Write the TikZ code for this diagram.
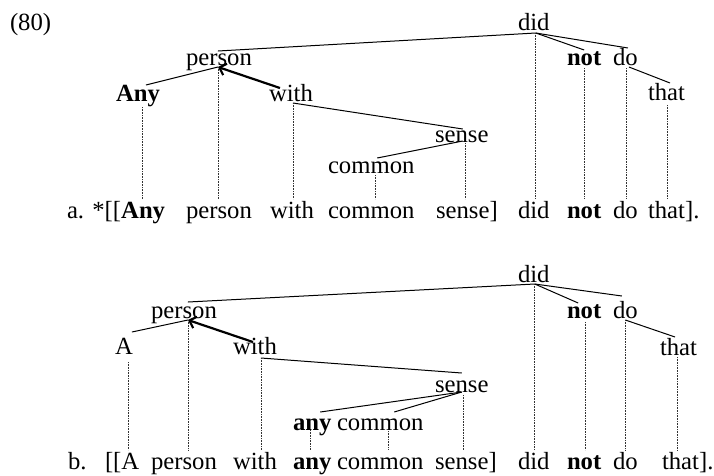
\documentclass[tikz,border=0pt]{standalone}
\usepackage{fontspec}
\setmainfont{Liberation Serif}
\usetikzlibrary{calc,arrows.meta}
\begin{document}
\begin{tikzpicture}[x=1pt,y=-1pt,
  wd/.style={inner sep=0pt, outer sep=0pt, anchor=base west, font=\fontsize{24.7}{29}\selectfont},
  sw/.style={wd, text height=19pt, text depth=5pt},
  edge/.style={line width=1pt, black},
  dotl/.style={line width=0.7pt, dash pattern=on 0.7pt off 0.9pt, black!80},
  mov/.style={line width=2.2pt, -{Straight Barb[length=6pt,width=12pt]}}]
\useasboundingbox (0,0) rectangle (714,475);

% ---------- (a) tree ----------
\node[wd] (ex) at (10,30) {(80)};
\node[wd] (didA) at (518,30) {did};
\node[wd] (personA) at (186,65.5) {person};
\node[wd] (anyA) at (116,101) {\bfseries Any};
\node[wd] (withA) at (269,101) {with};
\node[wd] (notA) at (567,65) {\bfseries not};
\node[wd] (doA) at (613,65) {do};
\node[wd] (thatA) at (648,100) {that};
\node[wd] (senseA) at (435,142) {sense};
\node[wd] (commonA) at (328,173) {common};

% ---------- (a) sentence ----------
\node[sw] (sa2) at (67,218) {a. *[[\textbf{Any}};
\node[sw] (sa3) at (186,218) {person};
\node[sw] (sa4) at (270,218) {with};
\node[sw] (sa5) at (328,218) {common};
\node[sw] (sa6) at (436,218) {sense]};
\node[sw] (sa7) at (518,218) {did};
\node[sw] (sa8) at (567,218) {\bfseries not};
\node[sw] (sa9) at (613,218) {do};
\node[sw] (sa10) at (648,218) {that].};

% attach points (a)
\coordinate (didA-b) at ($(didA.base)+(2,3)$);
\coordinate (personA-t) at ($(personA.base)+(-1,-14.5)$);
\coordinate (personA-b) at ($(personA.base)+(-1,1.5)$);
\coordinate (anyA-t) at ($(anyA.base)+(8,-16)$);
\coordinate (anyA-b) at ($(anyA.base)+(4,6)$);
\coordinate (withA-t) at ($(withA.base)+(-11,-13)$);
\coordinate (withA-b) at ($(withA.base)+(2,2)$);
\coordinate (notA-t) at ($(notA.base)+(0,-15)$);
\coordinate (notA-b) at ($(notA.base)+(0,3)$);
\coordinate (doA-t) at ($(doA.base)+(2.6,-17)$);
\coordinate (doA-b) at ($(doA.base)+(0.6,3)$);
\coordinate (doA-c) at ($(doA.base)+(3.6,2)$);
\coordinate (thatA-t) at ($(thatA.base)+(3.5,-17)$);
\coordinate (thatA-b) at ($(thatA.base)+(0.5,5)$);
\coordinate (senseA-t) at ($(senseA.base)+(1,-13)$);
\coordinate (senseA-b) at ($(senseA.base)+(1,-1)$);
\coordinate (senseA-d) at ($(senseA.base)+(4,1)$);
\coordinate (commonA-t) at ($(commonA.base)+(6,-15)$);
\coordinate (commonA-b) at ($(commonA.base)+(4,2)$);

\draw[edge] (didA-b) -- (personA-t);
\draw[edge] (didA-b) -- (notA-t);
\draw[edge] (didA-b) -- (doA-t);
\draw[edge] (personA-b) -- (anyA-t);
\draw[edge] (withA-b) -- (senseA-t);
\draw[edge] (senseA-b) -- (commonA-t);
\draw[edge] (doA-c) -- (thatA-t);
\draw[mov] (withA-t) -- (personA-b);

\draw[dotl] (didA-b) -- (didA-b |- sa7.north);
\draw[dotl] (personA-b) -- (personA-b |- sa3.north);
\draw[dotl] (anyA-b) -- (anyA-b |- sa2.north);
\draw[dotl] (withA-b) -- (withA-b |- sa4.north);
\draw[dotl] (commonA-b) -- (commonA-b |- sa5.north);
\draw[dotl] (senseA-d) -- (senseA-d |- sa6.north);
\draw[dotl] (notA-b) -- (notA-b |- sa8.north);
\draw[dotl] (doA-b) -- (doA-b |- sa9.north);
\draw[dotl] (thatA-b) -- (thatA-b |- sa10.north);

% ---------- (b) tree ----------
\node[wd] (didB) at (518,282) {did};
\node[wd] (personB) at (151,318) {person};
\node[wd] (aB) at (115,354) {A};
\node[wd] (withB) at (233,354) {with};
\node[wd] (notB) at (567,318) {\bfseries not};
\node[wd] (doB) at (613,318) {do};
\node[wd] (thatB) at (660,355) {that};
\node[wd] (senseB) at (435,392) {sense};
\node[wd] (anyB) at (293,430) {\bfseries any};
\node[wd] (commonB) at (337,430) {common};

% ---------- (b) sentence ----------
\node[sw] (sb0) at (68,469) {b.};
\node[sw] (sb1) at (105,469) {[[A};
\node[sw] (sb2) at (151,469) {person};
\node[sw] (sb3) at (233,469) {with};
\node[sw] (sb4) at (293,469) {\bfseries any};
\node[sw] (sb5) at (337,469) {common};
\node[sw] (sb6) at (435,469) {sense]};
\node[sw] (sb7) at (518,469) {did};
\node[sw] (sb8) at (567,469) {\bfseries not};
\node[sw] (sb9) at (613,469) {do};
\node[sw] (sb10) at (662,469) {that].};

% attach points (b)
\coordinate (didB-b) at ($(didB.base)+(1,2)$);
\coordinate (personB-t) at ($(personB.base)+(4,-16)$);
\coordinate (personB-b) at ($(personB.base)+(4,2)$);
\coordinate (aB-t) at ($(aB.base)+(8,-22)$);
\coordinate (aB-b) at ($(aB.base)+(4,8)$);
\coordinate (withB-t) at ($(withB.base)+(-2,-12)$);
\coordinate (withB-b) at ($(withB.base)+(6,4)$);
\coordinate (notB-t) at ($(notB.base)+(-6,-15)$);
\coordinate (notB-b) at ($(notB.base)+(1,4)$);
\coordinate (doB-t) at ($(doB.base)+(-3.4,-22)$);
\coordinate (doB-b) at ($(doB.base)+(0,2)$);
\coordinate (thatB-t) at ($(thatB.base)+(-3.5,-18)$);
\coordinate (thatB-b) at ($(thatB.base)+(-1.5,2)$);
\coordinate (senseB-t) at ($(senseB.base)+(0,-19)$);
\coordinate (senseB-b) at ($(senseB.base)+(0,0)$);
\coordinate (senseB-d) at ($(senseB.base)+(2,3)$);
\coordinate (anyB-t) at ($(anyB.base)+(8,-18)$);
\coordinate (anyB-b) at ($(anyB.base)+(-2,0)$);
\coordinate (commonB-t) at ($(commonB.base)+(14,-18)$);
\coordinate (commonB-b) at ($(commonB.base)+(8,1)$);

\draw[edge] (didB-b) -- (personB-t);
\draw[edge] (didB-b) -- (notB-t);
\draw[edge] (didB-b) -- (doB-t);
\draw[edge] (personB-b) -- (aB-t);
\draw[edge] (withB-b) -- (senseB-t);
\draw[edge] (senseB-b) -- (anyB-t);
\draw[edge] (senseB-b) -- (commonB-t);
\draw[edge] (doB-b) -- (thatB-t);
\draw[mov] (withB-t) -- (personB-b);

\draw[dotl] (didB-b) -- (didB-b |- sb7.north);
\draw[dotl] (notB-b) -- (notB-b |- sb8.north);
\draw[dotl] (doB-b) -- (doB-b |- sb9.north);
\draw[dotl] (thatB-b) -- (thatB-b |- sb10.north);
\draw[dotl] (personB-b) -- (personB-b |- sb2.north);
\draw[dotl] (aB-b) -- (aB-b |- sb1.north);
\draw[dotl] (withB-b) -- (withB-b |- sb3.north);
\draw[dotl] (anyB-b) -- (anyB-b |- sb4.north);
\draw[dotl] (commonB-b) -- (commonB-b |- sb5.north);
\draw[dotl] (senseB-d) -- (senseB-d |- sb6.north);
\end{tikzpicture}
\end{document}
